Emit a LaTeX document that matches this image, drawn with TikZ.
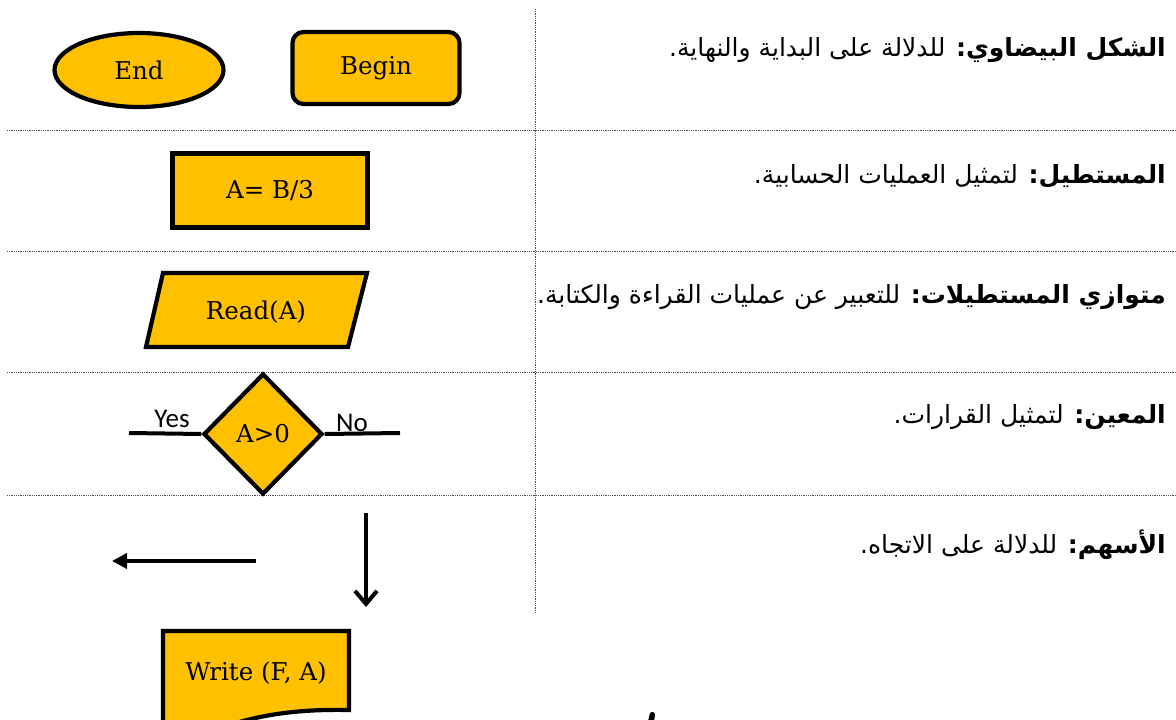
\documentclass[tikz,border=0pt]{standalone}
\usepackage{fontspec}
\setmainfont{DejaVu Serif}
\newfontfamily\arabicfont[Script=Arabic]{DejaVu Sans}
\newfontfamily\labelfont{Carlito}
\TeXXeTstate=1
\usetikzlibrary{shapes.geometric, arrows.meta}
\definecolor{gold}{HTML}{FFC000}

\begin{document}
\begin{tikzpicture}[x=1pt, y=-1pt,
  shapestyle/.style={draw=black, line width=4.2pt, fill=gold, line join=miter},
  shapebox/.style={shapestyle, inner sep=0pt, font=\fontsize{24.5}{28}\selectfont},
  boxtext/.style={font=\fontsize{24.5}{28}\selectfont, inner sep=0pt},
  flowline/.style={line width=4pt},
  divider/.style={densely dotted, line width=0.8pt, black!70},
  desc/.style={anchor=base east, inner sep=0pt, font=\arabicfont\fontsize{25}{28}\selectfont},
  yesno/.style={anchor=base, inner sep=0pt, font=\labelfont\fontsize{27}{30}\selectfont}]
\useasboundingbox (0,0) rectangle (1176,720);
\clip (0,0) rectangle (1176,720);

% table rules
\draw[divider] (535,9) -- (535,613);
\foreach \yy in {130,251.5,372,495}
  \draw[divider] (7,\yy) -- (1176,\yy);

% terminal shapes
\node[ellipse, shapebox, minimum width=169, minimum height=74] (end) at (139,70) {End};
\node[rectangle, rounded corners=11, shapebox, minimum width=167, minimum height=72] (begin) at (376,68) {Begin};

% process box
\node[rectangle, shapebox, minimum width=195, minimum height=74] (calc) at (270,190.5) {A= B/3};

% input/output parallelogram
\draw[shapestyle] (163,273) -- (367,273) -- (348,347) -- (146,347) -- cycle;
\node[boxtext] (read) at (256,312) {Read(A)};

% decision
\node[diamond, aspect=1, shapebox, minimum width=119, minimum height=121] (dec) at (263,434) {A>0};
\coordinate (yesend) at (129,433);
\coordinate (noend) at (400,433);
\draw[flowline] (dec.west) -- (yesend);
\draw[flowline] (dec.east) -- (noend);
\node[yesno] (yes) at (172,427) {Yes};
\node[yesno] (no) at (352,431) {No};

% arrows
\coordinate (la0) at (256,561);
\coordinate (la1) at (112,561);
\draw[flowline, -{Triangle[length=15pt,width=15pt]}] (la0) -- (la1);
\coordinate (da0) at (366,513);
\coordinate (da1) at (366,607);
\draw[flowline, -{Straight Barb[length=13pt,width=22pt,line width=4pt]}] (da0) -- (da1);

% document shape
\draw[shapestyle] (163,760) -- (163,631) -- (349,631) -- (349,710)
  .. controls (300,709) and (255,714) .. (210,732) -- (163,750);
\node[boxtext] (write) at (256,673) {Write (F, A)};

% descriptions
\node[desc] (d1) at (1166,56) {\beginR\textbf{الشكل البيضاوي:} للدلالة على البداية والنهاية.\endR};
\node[desc] (d2) at (1166,183) {\beginR\textbf{المستطيل:} لتمثيل العمليات الحسابية.\endR};
\node[desc] (d3) at (1166,303) {\beginR\textbf{متوازي المستطيلات:} للتعبير عن عمليات القراءة والكتابة.\endR};
\node[desc] (d4) at (1166,423) {\beginR\textbf{المعين:} لتمثيل القرارات.\endR};
\node[desc] (d5) at (1166,553) {\beginR\textbf{الأسهم:} للدلالة على الاتجاه.\endR};

% top of the next line, cut by the page edge
\fill (648,721) -- (650,713) .. controls (652,711) and (655,712) .. (655,715) -- (654,721) -- cycle;
\end{tikzpicture}
\end{document}
